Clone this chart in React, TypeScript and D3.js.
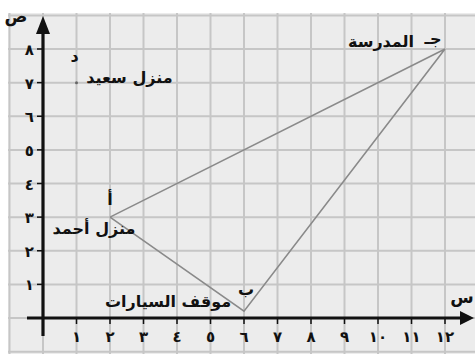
import React from "react";
import * as d3 from "d3";

const W = 475;
const H = 354;

const xTickValues = [1, 2, 3, 4, 5, 6, 7, 8, 9, 10, 11, 12];
const xTickLabels = ["١", "٢", "٣", "٤", "٥", "٦", "٧", "٨", "٩", "١٠", "١١", "١٢"];
const yTickValues = [1, 2, 3, 4, 5, 6, 7, 8];
const yTickLabels = ["١", "٢", "٣", "٤", "٥", "٦", "٧", "٨"];

const pointNames = ["أ", "ب", "جـ", "د"];
const pointX = [2, 6, 12, 1];
const pointY = [3, 0.2, 8, 7];
const placeNames = ["منزل أحمد", "موقف السيارات", "المدرسة", "منزل سعيد"];
const triangle = [0, 1, 2, 0];

const xAxisLabel = "س";
const yAxisLabel = "ص";

export default function App() {
  const x = d3.scaleLinear().domain([0, 12]).range([43, 445]);
  const y = d3.scaleLinear().domain([0, 8]).range([318, 49]);
  const gridX = d3.range(-1, 14);
  const gridY = d3.range(-1, 10);
  const line = d3
    .line<number>()
    .x((i) => x(pointX[i]))
    .y((i) => y(pointY[i]));

  const font = "'DejaVu Sans', sans-serif";
  const x0 = x(0);
  const y0 = y(0);

  const nameOffsets = [
    { dx: 0, dy: -12 },
    { dx: 2, dy: -16 },
    { dx: -12, dy: -5 },
    { dx: -2, dy: -21 },
  ];
  const placeOffsets = [
    { dx: -16, dy: 17 },
    { dx: -76, dy: -4 },
    { dx: -64, dy: -2 },
    { dx: 53, dy: 0 },
  ];

  return (
    <svg
      width={W}
      height={H}
      style={{ position: "absolute", left: 0, top: 0, background: "#fff" }}
    >
      <rect x={8} y={13} width={W - 8} height={H - 13} fill="#ececec" />
      <g stroke="#c6c6c6" strokeWidth={2}>
        {gridX.map((k) => (
          <line key={"gx" + k} x1={x(k)} x2={x(k)} y1={13} y2={H} />
        ))}
        {gridY.map((k) => (
          <line key={"gy" + k} x1={8} x2={W} y1={y(k)} y2={y(k)} />
        ))}
      </g>

      <path
        d={line(triangle) || ""}
        fill="none"
        stroke="#8a8a8a"
        strokeWidth={1.6}
      />

      <line x1={27} x2={462} y1={y0} y2={y0} stroke="#111" strokeWidth={3.2} />
      <path
        d={`M${W - 1},${y0} L${W - 15},${y0 - 7} L${W - 15},${y0 + 7} Z`}
        fill="#111"
      />
      <line x1={x0} x2={x0} y1={336} y2={30} stroke="#111" strokeWidth={3.2} />
      <path d={`M${x0},${16} L${x0 - 7},${34} L${x0 + 7},${34} Z`} fill="#111" />

      <g stroke="#111" strokeWidth={1.5}>
        {xTickValues.map((v) => (
          <line key={"tx" + v} x1={x(v)} x2={x(v)} y1={y0} y2={y0 + 6} />
        ))}
        {yTickValues.map((v) => (
          <line key={"ty" + v} x1={x0 - 6} x2={x0} y1={y(v)} y2={y(v)} />
        ))}
      </g>
      <g fontFamily={font} fontWeight="bold" fontSize={15} fill="#111">
        {xTickValues.map((v, i) => (
          <text key={"lx" + v} x={x(v)} y={y0 + 24} textAnchor="middle">
            {xTickLabels[i]}
          </text>
        ))}
        {yTickValues.map((v, i) => (
          <text key={"ly" + v} x={x0 - 9} y={y(v) + 6} textAnchor="end">
            {yTickLabels[i]}
          </text>
        ))}
        <text x={462} y={303} textAnchor="middle" fontSize={17}>
          {xAxisLabel}
        </text>
        <text x={16} y={22} textAnchor="middle" fontSize={17}>
          {yAxisLabel}
        </text>
      </g>

      <circle cx={x(pointX[3])} cy={y(pointY[3])} r={1.5} fill="#666" />

      <g fontFamily={font} fontWeight="bold" fontSize={16} fill="#111">
        {pointNames.map((n, i) => (
          <text
            key={"pn" + i}
            x={x(pointX[i]) + nameOffsets[i].dx}
            y={y(pointY[i]) + nameOffsets[i].dy}
            textAnchor="middle"
            fontSize={16}
          >
            {n}
          </text>
        ))}
        {placeNames.map((n, i) => (
          <text
            key={"pl" + i}
            x={x(pointX[i]) + placeOffsets[i].dx}
            y={y(pointY[i]) + placeOffsets[i].dy}
            textAnchor="middle"
            direction="rtl"
          >
            {n}
          </text>
        ))}
      </g>
    </svg>
  );
}
